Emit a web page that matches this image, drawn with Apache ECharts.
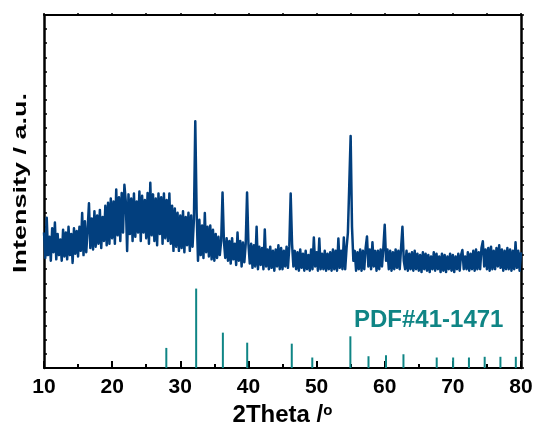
<!DOCTYPE html>
<html>
<head>
<meta charset="utf-8">
<script src="https://cdn.jsdelivr.net/npm/echarts@6/dist/echarts.min.js"></script>
<style>
html,body{margin:0;padding:0;background:#fff;}
#chart{width:537px;height:432px;}
</style>
</head>
<body>
<div id="chart"></div>
<script>
// XRD pattern: 2Theta from 10 to 80 in steps of 0.2 degrees
const twoThetaStart = 10;
const twoThetaStep = 0.2;
const intensity = [
  960, 780, 1064, 800, 930,   // 10
  760, 990, 820, 1030, 770,   // 11
  950, 800, 910, 760, 980,    // 12
  790, 960, 770, 1000, 800,   // 13
  950, 745, 990, 810, 970,    // 14
  790, 1000, 830, 1098, 800,  // 15
  1040, 820, 980, 1167, 850,  // 16
  1060, 840, 1110, 860, 1080, // 17
  880, 1120, 850, 1070, 900,  // 18
  1150, 870, 1170, 880, 1200, // 19
  920, 1180, 880, 1264, 940,  // 20
  1210, 900, 1240, 960, 1298, // 21
  1180, 829, 1230, 950, 1200, // 22
  900, 1236, 930, 1180, 960,  // 23
  1250, 900, 1220, 960, 1190, // 24
  920, 1240, 880, 1312, 940,  // 25
  1230, 900, 1200, 870, 1236, // 26
  950, 1210, 880, 1236, 920,  // 27
  1190, 900, 1236, 880, 1150, // 28
  830, 1130, 860, 1100, 830,  // 29
  1080, 850, 1110, 820, 1070, // 30
  870, 1100, 830, 1080, 860,  // 31
  1050, 1747, 1100, 760, 1050,// 32
  800, 1010, 780, 1098, 820,  // 33
  1000, 790, 1010, 770, 980,  // 34
  760, 950, 780, 930, 800,    // 35
  900, 1243, 900, 780, 920,   // 36
  760, 900, 740, 920, 770,    // 37
  880, 730, 960, 760, 900,    // 38
  720, 890, 750, 880, 1243,   // 39
  880, 740, 880, 710, 870,    // 40
  720, 1001, 700, 860, 730,   // 41
  850, 700, 981, 720, 840,    // 42
  700, 860, 710, 830, 690,    // 43
  840, 720, 870, 700, 850,    // 44
  700, 830, 720, 860, 710,    // 45
  860, 1236, 880, 720, 830,   // 46
  700, 820, 690, 840, 710,    // 47
  810, 690, 830, 700, 800,    // 48
  690, 840, 700, 925, 720,    // 49
  820, 690, 918, 700, 810,    // 50
  700, 830, 690, 810, 700,    // 51
  820, 690, 840, 700, 830,    // 52
  690, 918, 710, 830, 700,    // 53
  925, 700, 850, 960, 1300,   // 54
  1644, 1000, 760, 830, 690,  // 55
  820, 700, 840, 690, 830,    // 56
  700, 850, 932, 720, 840,    // 57
  700, 891, 720, 830, 690,    // 58
  830, 700, 840, 720, 850,    // 59
  1015, 760, 840, 700, 830,   // 60
  690, 820, 700, 840, 710,    // 61
  830, 700, 850, 1001, 760,   // 62
  700, 830, 690, 810, 700,    // 63
  820, 690, 830, 700, 810,    // 64
  690, 800, 680, 820, 700,    // 65
  810, 690, 800, 680, 790,    // 66
  700, 820, 690, 810, 700,    // 67
  790, 680, 810, 690, 800,    // 68
  680, 790, 700, 810, 690,    // 69
  800, 680, 790, 700, 810,    // 70
  690, 800, 836, 700, 790,    // 71
  700, 820, 690, 810, 700,    // 72
  830, 690, 840, 700, 820,    // 73
  700, 850, 898, 720, 840,    // 74
  700, 850, 690, 860, 700,    // 75
  830, 700, 850, 720, 870,    // 76
  710, 840, 690, 830, 700,    // 77
  850, 700, 840, 690, 830,    // 78
  700, 891, 710, 830, 690,    // 79
  820                         // 80
];

// Reference pattern PDF#41-1471 (stick positions and heights)
const pdfAngles  = [27.95, 32.33, 36.25, 39.82, 46.36, 49.37, 54.96, 57.62, 60.19, 62.75, 67.63, 70.04, 72.36, 74.67, 76.98, 79.24];
const pdfHeights = [143, 563, 251, 180, 173, 75, 225, 84, 91, 98, 75, 75, 75, 80, 80, 80];

const xTickValues = [10, 20, 30, 40, 50, 60, 70, 80];
const pdfLabel = 'PDF#41-1471';
const yTitle = 'Intensity / a.u.';

const FONT = "'Liberation Sans', Arial, Helvetica, sans-serif";
const LINE_COLOR = '#023f7e';
const PDF_COLOR = '#0f8585';

const lineData = intensity.map((v, i) => [+(twoThetaStart + i * twoThetaStep).toFixed(1), v]);
const stickData = pdfAngles.map((a, i) => [a, pdfHeights[i]]);

const chart = echarts.init(document.getElementById('chart'), null, {renderer: 'canvas'});
chart.setOption({
  animation: false,
  backgroundColor: '#ffffff',
  grid: {left: 44, right: 16, top: 15, bottom: 57, containLabel: false},
  xAxis: [
    {
      type: 'value', min: 10, max: 80, interval: 10, position: 'bottom',
      axisLine: {show: true, onZero: false, lineStyle: {color: '#000', width: 2}},
      axisTick: {show: true, inside: true, length: 7, lineStyle: {color: '#000', width: 2}},
      minorTick: {show: true, splitNumber: 2, length: 4, lineStyle: {color: '#000', width: 2}},
      axisLabel: {
        color: '#000', fontSize: 21, fontWeight: 'bold', fontFamily: FONT, margin: 9,
        formatter: v => (xTickValues.indexOf(v) >= 0 ? String(v) : '')
      },
      splitLine: {show: false},
      name: '{a|2Theta /}{s|o}',
      nameLocation: 'middle',
      nameGap: 30,
      nameTextStyle: {
        color: '#000', fontSize: 24, fontWeight: 'bold', fontFamily: FONT,
        rich: {
          a: {color: '#000', fontSize: 24, fontWeight: 'bold', fontFamily: FONT, lineHeight: 24},
          s: {color: '#000', fontSize: 15, fontWeight: 'bold', fontFamily: FONT, verticalAlign: 'top', lineHeight: 6}
        }
      }
    },
    {
      type: 'value', min: 10, max: 80, interval: 5, position: 'top',
      axisLine: {show: true, onZero: false, lineStyle: {color: '#000', width: 2}},
      axisTick: {show: true, inside: false, length: 2, lineStyle: {color: '#000', width: 1.5}},
      axisLabel: {show: false},
      splitLine: {show: false}
    }
  ],
  yAxis: [
    {
      type: 'value', min: 0, max: 2500, interval: 100, position: 'left',
      axisLine: {show: true, onZero: false, lineStyle: {color: '#000', width: 2.5}},
      axisTick: {show: true, inside: true, length: 3, lineStyle: {color: '#000', width: 1.5}},
      axisLabel: {show: false},
      splitLine: {show: false}
    },
    {
      type: 'value', min: 0, max: 2500, interval: 100, position: 'right',
      axisLine: {show: true, onZero: false, lineStyle: {color: '#000', width: 2.5}},
      axisTick: {show: true, inside: false, length: 3, lineStyle: {color: '#000', width: 1.5}},
      axisLabel: {show: false},
      splitLine: {show: false}
    }
  ],
  series: [
    {
      type: 'bar', name: pdfLabel, xAxisIndex: 0, yAxisIndex: 0,
      data: stickData, barWidth: 2,
      itemStyle: {color: PDF_COLOR},
      z: 2
    },
    {
      type: 'line', name: 'sample', xAxisIndex: 0, yAxisIndex: 0,
      data: lineData, showSymbol: false, symbol: 'none',
      lineStyle: {color: LINE_COLOR, width: 2.5, join: 'round'},
      z: 3
    }
  ],
  graphic: [
    {
      type: 'text', x: 20.5, y: 183, rotation: Math.PI / 2, scaleX: 1.42, scaleY: 1,
      style: {
        text: yTitle, font: 'bold 19px ' + FONT, fill: '#000',
        align: 'center', verticalAlign: 'middle', textAlign: 'center', textVerticalAlign: 'middle'
      }
    },
    {
      type: 'text', x: 354, y: 320,
      style: {
        text: pdfLabel, font: 'bold 24px ' + FONT, fill: PDF_COLOR,
        align: 'left', verticalAlign: 'middle', textAlign: 'left', textVerticalAlign: 'middle'
      }
    }
  ]
});
</script>
</body>
</html>
